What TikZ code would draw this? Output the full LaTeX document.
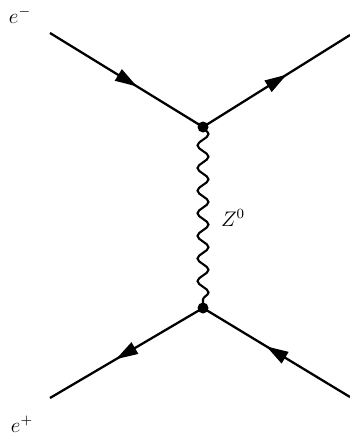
\documentclass[tikz,border=0pt]{standalone}
\usetikzlibrary{arrows.meta,decorations.pathmorphing,decorations.markings}

\tikzset{fermion/.style={line width=1.3pt,decoration={markings,mark=at position .57 with {\arrow{Triangle[length=4.4mm,width=2.6mm]}}},postaction={decorate}},
boson/.style={line width=1.2pt,decorate,decoration={snake,amplitude=1.1mm,segment length=4.525mm}}}

\begin{document}
\begin{tikzpicture}[x=.2mm,y=-.2mm,font=\large]
\useasboundingbox (0,0) rectangle (350,436);
\coordinate (v1) at (203,127);\coordinate (v2) at (203,308);
\coordinate (a) at (50,33);\coordinate (b) at (350,35);\coordinate (c) at (50,398);\coordinate (d) at (350,397);
\draw[fermion] (a)--(v1);\draw[fermion] (v1)--(b);
\draw[fermion] (v2)--(c);\draw[fermion] (d)--(v2);
\draw[boson] (v1)--(v2);
\fill (v1) circle (1.1mm);\fill (v2) circle (1.1mm);
\node (zlab) at (233,218){$Z^0$};
\node (em) at (20,15){$e^-$};\node (ep) at (22,424){$e^+$};
\end{tikzpicture}
\end{document}
